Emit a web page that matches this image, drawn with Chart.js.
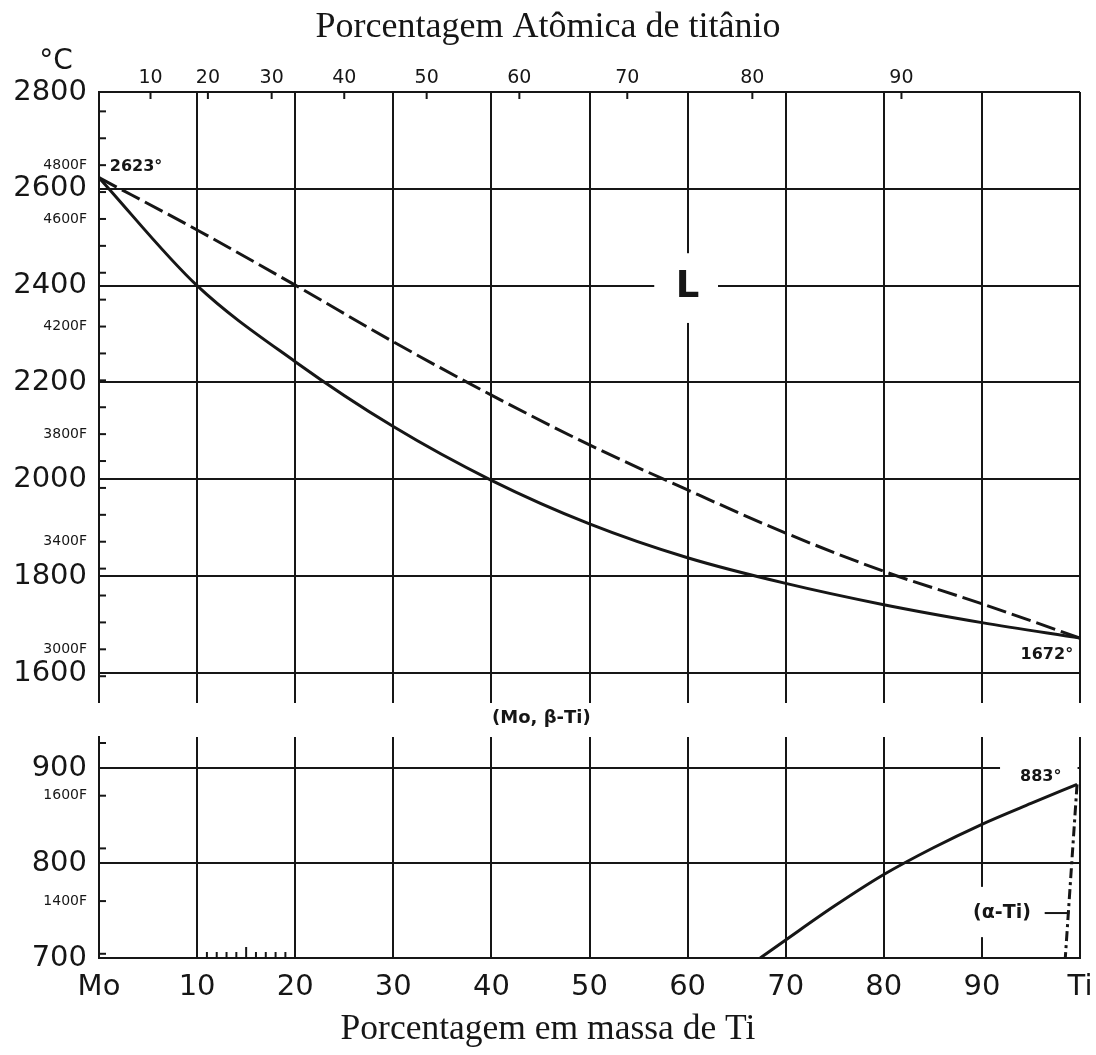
<!DOCTYPE html>
<html>
<head>
<meta charset="utf-8">
<title>Mo-Ti</title>
<script src="https://cdn.jsdelivr.net/npm/chart.js@4.4.0/dist/chart.umd.min.js"></script>
<style>
  body { margin: 0; background: #fff; }
  #wrap { position: relative; width: 1096px; height: 1055px; }
  canvas { position: absolute; left: 0; top: 0; }
</style>
</head>
<body>
<div id="wrap">
  <canvas id="upper" width="1096" height="1055"></canvas>
  <canvas id="lower" width="1096" height="1055"></canvas>
</div>
<script>
//weight percent Ti for the two liquid curves
const wtPct = [0, 10, 20, 30, 40, 50, 60, 70, 80, 90, 100];
//solidus (solid) and liquidus (dashed), degrees C
const solidusC = [2623, 2400, 2243, 2109, 1998, 1908, 1838, 1785, 1741, 1704, 1672];
const liquidusC = [2623, 2515, 2401, 2284, 2174, 2071, 1978, 1889, 1810, 1743, 1672];

//beta transus in the lower panel
const transusWt = [67.4, 70, 75, 80, 85, 90, 95, 99.7];
const transusC = [700, 719, 755, 788, 816, 841, 863, 883];

//alpha-Ti boundary (dash dot)
const alphaWt = [99.7, 98.5];
const alphaC = [883, 700];

//ticks and labels
const wtTicks = [0, 10, 20, 30, 40, 50, 60, 70, 80, 90, 100];
const wtLabels = ['Mo', '10', '20', '30', '40', '50', '60', '70', '80', '90', 'Ti'];
const atomicLabels = [10, 20, 30, 40, 50, 60, 70, 80, 90];
const atomicTickWt = [5.25, 11.1, 17.6, 25.0, 33.4, 42.85, 53.85, 66.6, 81.8];
const upperTicksC = [1600, 1800, 2000, 2200, 2400, 2600, 2800];
const lowerTicksC = [700, 800, 900];
const upperFLabels = [3000, 3400, 3800, 4200, 4600, 4800];
const lowerFLabels = [1400, 1600];
const minorWtTicks = [11, 12, 13, 14, 15, 16, 17, 18, 19];

const INK = '#161616';
const SANS = 'DejaVu Sans';
const SERIF = 'Liberation Serif';

function toF(c) { return c * 9 / 5 + 32; }
function toC(f) { return (f - 32) * 5 / 9; }

function points(xs, ys) {
  return xs.map(function (x, i) { return { x: x, y: ys[i] }; });
}

//replaces the generated ticks by a fixed list
function setTicks(list) {
  return function (scale) { scale.ticks = list.map(function (v) { return { value: v }; }); };
}

//celsius ticks plus one small tick every 100 F (given in celsius)
function tempTicks(cTicks, minC, maxC) {
  var out = cTicks.slice();
  for (var f = Math.ceil(toF(minC) / 100) * 100; f <= toF(maxC); f += 100) out.push(toC(f));
  return out.sort(function (a, b) { return a - b; });
}

//options for the temperature axis, big celsius labels and small fahrenheit ones
function tempAxis(cTicks, fLabels, minC, maxC) {
  function isC(v) { return cTicks.includes(v); }
  return {
    type: 'linear', position: 'left', min: minC, max: maxC,
    afterBuildTicks: setTicks(tempTicks(cTicks, minC, maxC)),
    ticks: {
      autoSkip: false, padding: 12, color: INK,
      callback: function (v) {
        if (isC(v)) return String(v);
        var f = Math.round(toF(v));
        return fLabels.includes(f) ? f + 'F' : '';
      },
      font: function (c) {
        return (c.tick && isC(c.tick.value)) ? { family: SANS, size: 29 } : { family: SANS, size: 14 };
      }
    },
    grid: {
      drawTicks: false,
      lineWidth: function (c) { return (c.tick && isC(c.tick.value)) ? 2 : 0; },
      color: function (c) { return (c.tick && isC(c.tick.value)) ? INK : 'rgba(0,0,0,0)'; }
    },
    border: { display: true, color: INK, width: 2 },
    afterFit: function (s) { s.width = 99; }
  };
}

//empty strip on the right so the titles stay centred on the page
const rightStrip = {
  type: 'linear', position: 'right', display: true,
  ticks: { display: false },
  grid: { display: false, drawTicks: false },
  border: { display: false },
  afterFit: function (s) { s.width = 16; }
};

function seg(ctx, x1, y1, x2, y2) {
  ctx.beginPath(); ctx.moveTo(x1, y1); ctx.lineTo(x2, y2); ctx.stroke();
}

function label(ctx, text, x, y, font, align) {
  ctx.font = font;
  ctx.fillStyle = INK;
  ctx.textAlign = align || 'center';
  ctx.textBaseline = 'middle';
  ctx.fillText(text, x, y);
}

//short ticks pointing right from the left axis at the fahrenheit positions
function fahrenheitTicks(chart, cTicks) {
  var ctx = chart.ctx, y = chart.scales.y, a = chart.chartArea;
  y.ticks.forEach(function (tk) {
    if (cTicks.includes(tk.value)) return;
    var py = y.getPixelForValue(tk.value);
    seg(ctx, a.left, py, a.left + 7, py);
  });
}

function lineSet(data, dash) {
  return {
    data: data, borderColor: INK, borderWidth: 3, borderDash: dash || [],
    pointRadius: 0, fill: false, cubicInterpolationMode: 'monotone',
    xAxisID: 'x', yAxisID: 'y'
  };
}

//marks and texts of the upper panel
const upperMarks = {
  id: 'upperMarks',
  beforeDatasetsDraw(chart) {
    var ctx = chart.ctx, x = chart.scales.x, y = chart.scales.y, a = chart.chartArea;
    ctx.save();
    //white patch behind the L
    ctx.fillStyle = '#fff';
    var l = x.getPixelForValue(56.6), r = x.getPixelForValue(63.1);
    var t = y.getPixelForValue(2467), b = y.getPixelForValue(2323);
    ctx.fillRect(l, t, r - l, b - t);
    ctx.strokeStyle = INK; ctx.lineWidth = 2;
    fahrenheitTicks(chart, upperTicksC);
    //atomic % ticks under the top border
    chart.scales.xTop.ticks.forEach(function (tk) {
      var px = chart.scales.xTop.getPixelForValue(tk.value);
      seg(ctx, px, a.top, px, a.top + 7);
    });
    ctx.restore();
  },
  afterDatasetsDraw(chart) {
    var ctx = chart.ctx, x = chart.scales.x, y = chart.scales.y, a = chart.chartArea;
    ctx.save();
    label(ctx, '°C', a.left - 43, a.top - 30, '28px ' + SANS);
    label(ctx, '2623°', x.getPixelForValue(1.1), y.getPixelForValue(2645), 'bold 16px ' + SANS, 'left');
    label(ctx, 'L', x.getPixelForValue(60), y.getPixelForValue(2397), 'bold 37px ' + SANS);
    label(ctx, '1672°', x.getPixelForValue(99.3), y.getPixelForValue(1637), 'bold 16px ' + SANS, 'right');
    label(ctx, '(Mo, β-Ti)', x.getPixelForValue(45.1), a.bottom + 15, 'bold 18px ' + SANS);
    ctx.restore();
  }
};

//marks and texts of the lower panel
const lowerMarks = {
  id: 'lowerMarks',
  beforeDatasetsDraw(chart) {
    var ctx = chart.ctx, x = chart.scales.x, y = chart.scales.y, a = chart.chartArea;
    ctx.save();
    ctx.fillStyle = '#fff';
    //gap in the 900 line for the 883 label
    var l = x.getPixelForValue(91.85), r = x.getPixelForValue(99.75);
    ctx.fillRect(l, y.getPixelForValue(900) - 8, r - l, 16);
    //gap in the 90 line for (alpha-Ti)
    l = x.getPixelForValue(88.2); r = x.getPixelForValue(96.0);
    var t = y.getPixelForValue(775), b = y.getPixelForValue(722);
    ctx.fillRect(l, t, r - l, b - t);
    ctx.strokeStyle = INK; ctx.lineWidth = 2;
    fahrenheitTicks(chart, lowerTicksC);
    minorWtTicks.forEach(function (v) {
      var px = x.getPixelForValue(v);
      seg(ctx, px, a.bottom, px, a.bottom - (v === 15 ? 11 : 6));
    });
    ctx.restore();
  },
  afterDatasetsDraw(chart) {
    var ctx = chart.ctx, x = chart.scales.x, y = chart.scales.y;
    ctx.save();
    label(ctx, '883°', x.getPixelForValue(96.0), y.getPixelForValue(890.5), 'bold 16px ' + SANS);
    label(ctx, '(α-Ti)', x.getPixelForValue(92.05), y.getPixelForValue(747.4), 'bold 19px ' + SANS);
    ctx.strokeStyle = INK; ctx.lineWidth = 2;
    var py = y.getPixelForValue(747.4);
    seg(ctx, x.getPixelForValue(96.4), py, x.getPixelForValue(98.9), py);
    ctx.restore();
  }
};

var gridStyle = { color: INK, lineWidth: 2, drawTicks: false };

var upperChart = new Chart(document.getElementById('upper'), {
  type: 'line',
  data: {
    datasets: [
      lineSet(points(wtPct, solidusC)),
      lineSet(points(wtPct, liquidusC), [20, 6])
    ]
  },
  options: {
    responsive: false,
    animation: false,
    layout: { padding: { left: 0, right: 0, top: 0, bottom: 352 } },
    plugins: {
      legend: { display: false },
      tooltip: { enabled: false },
      title: {
        display: true, text: 'Porcentagem Atômica de titânio', color: INK,
        font: { family: SERIF, size: 36, weight: 'normal' },
        padding: { top: 6, bottom: 0 }
      }
    },
    scales: {
      x: {
        type: 'linear', position: 'bottom', min: 0, max: 100,
        afterBuildTicks: setTicks(wtTicks),
        ticks: { display: false },
        grid: gridStyle,
        border: { display: false },
        afterFit: function (s) { s.height = 0; s.paddingLeft = 0; s.paddingRight = 0; }
      },
      xTop: {
        type: 'linear', position: 'top', min: 0, max: 100,
        afterBuildTicks: setTicks(atomicTickWt),
        ticks: {
          callback: function (v, i) { return String(atomicLabels[i]); },
          color: INK, font: { family: SANS, size: 19 }, padding: 3,
          autoSkip: false, maxRotation: 0
        },
        grid: { display: false, drawTicks: false },
        border: { display: false },
        afterFit: function (s) { s.height = 42.8; s.paddingLeft = 0; s.paddingRight = 0; }
      },
      y: tempAxis(upperTicksC, upperFLabels, 1538, 2800),
      yRight: rightStrip
    }
  },
  plugins: [upperMarks]
});

var lowerChart = new Chart(document.getElementById('lower'), {
  type: 'line',
  data: {
    datasets: [
      lineSet(points(transusWt, transusC)),
      lineSet(points(alphaWt, alphaC), [10, 4, 3, 4])
    ]
  },
  options: {
    responsive: false,
    animation: false,
    layout: { padding: { left: 0, right: 0, top: 737, bottom: 0 } },
    plugins: {
      legend: { display: false },
      tooltip: { enabled: false },
      title: {
        display: true, position: 'bottom', text: 'Porcentagem em massa de Ti', color: INK,
        font: { family: SERIF, size: 35.5, weight: 'normal' },
        padding: { top: 0, bottom: 3.7 }
      }
    },
    scales: {
      x: {
        type: 'linear', position: 'bottom', min: 0, max: 100,
        afterBuildTicks: setTicks(wtTicks),
        ticks: {
          callback: function (v, i) { return wtLabels[i]; },
          color: INK, font: { family: SANS, size: 29 }, padding: 12,
          autoSkip: false, maxRotation: 0
        },
        grid: gridStyle,
        border: { display: true, color: INK, width: 2 },
        afterFit: function (s) { s.height = 50.7; s.paddingLeft = 0; s.paddingRight = 0; }
      },
      y: tempAxis(lowerTicksC, lowerFLabels, 700, 933),
      yRight: Object.assign({}, rightStrip)
    }
  },
  plugins: [lowerMarks]
});
</script>
</body>
</html>
